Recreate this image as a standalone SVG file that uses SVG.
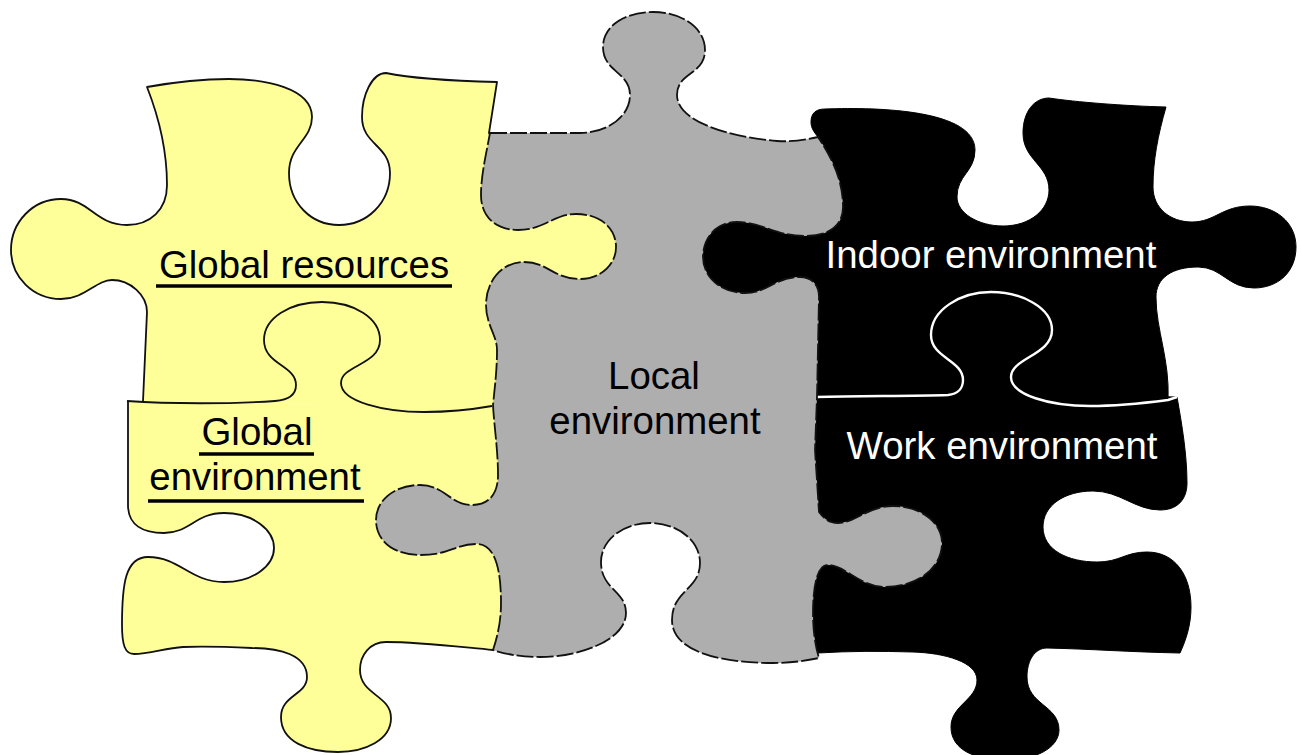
<svg xmlns="http://www.w3.org/2000/svg" width="1301" height="755" viewBox="0 0 1301 755">
<style>
.y{fill:#ffff99;stroke:#111;stroke-width:1.8;stroke-linejoin:round}
.g{fill:#aeaeae;stroke:#111;stroke-width:1.8;stroke-dasharray:17 3;stroke-linejoin:round}
.k{fill:#000;stroke:#000;stroke-width:1}
.seam{fill:none;stroke-linejoin:round}
.t{font-family:"Liberation Sans",Arial,sans-serif;font-size:38.4px;text-anchor:middle}
.u{stroke:#000;stroke-width:3.4}
</style>
<rect width="1301" height="755" fill="#fff"/>
<g id="work-environment">
<path class="k" d="M1177 397C1182 425 1187 455 1187 483C1187 500 1177 510 1160 510C1135 510 1120 491 1093 491C1065 491 1043 505 1043 527C1043 550 1068 562 1097 562C1120 562 1125 552 1147 552C1175 552 1191 575 1191 607C1191 625 1186 640 1180 653C1130 652 1090 649 1047 648C1035 648 1027 660 1027 677C1027 705 1059 705 1059 730C1059 748 1035 760 1007 760C975 760 951 750 951 727C951 705 977 700 977 680C977 662 945 653 913 652C880 651 850 651 818 653L800 640L800 390Z"/>
<text class="t" x="1002" y="459" fill="#fff">Work environment</text>
</g>
<g id="indoor-environment">
<path class="k" d="M817 397L805 300L735 300L697 290L697 215L825 215L830 170L818 137C814 132 811 128 811 122C811 113 816 109 825 109C880 107 975 110 975 150C975 172 957 175 957 197C957 213 978 226 1003 226C1030 226 1049 210 1049 190C1049 165 1023 160 1023 133C1023 112 1034 98 1049 98C1075 102 1125 106 1166 107C1158 135 1153 160 1153 187C1153 208 1170 222 1192 222C1215 222 1222 206 1250 206C1275 206 1296 222 1296 247C1296 272 1278 288 1254 288C1228 288 1222 267 1198 267C1172 267 1156 278 1156 297C1156 330 1170 360 1168 400Z"/>
<text class="t" x="991" y="268" fill="#fff">Indoor environment</text>
</g>
<g id="global-environment">
<path class="y" d="M505 405L510 500L510 640L493 650C460 647 420 642 386 642C370 642 360 655 360 670C360 695 391 695 391 718C391 740 365 752 338 752C308 752 281 742 281 717C281 695 307 695 307 677C307 655 280 648 252 648C230 647 205 646 183 647C165 648 150 654 134 654C125 654 122 645 122 625C122 585 125 557 148 557C180 557 190 582 224 582C253 582 274 566 274 548C274 530 253 513 224 513C195 513 190 533 164 533C143 533 128 525 128 505L128 402"/>
<text class="t" x="257" y="445" fill="#000">Global</text>
<text class="t" x="255" y="490" fill="#000">environment</text>
<line class="u" x1="199" y1="454" x2="314" y2="454"/>
<line class="u" x1="148" y1="501" x2="364" y2="501"/>
</g>
<g id="global-resources">
<path class="y" d="M143 401L147 312C147 295 130 280 112 280C96 280 85 299 61 299C33 299 11 277 11 250C11 222 33 199 61 199C90 199 95 225 127 225C150 225 167 210 167 185C167 150 158 115 147 87C175 82 200 79 229 79C265 79 312 88 312 117C312 140 289 145 289 173C289 203 311 225 339 225C367 225 390 203 390 173C390 145 362 145 362 117C362 95 372 73 386 73C410 78 455 81 497 82L489 133L500 150L530 205L625 205L630 290L530 300L505 353L500 407"/>
<text class="t" x="304" y="278" fill="#000">Global resources</text>
<line class="u" x1="156" y1="286" x2="452" y2="286"/>
</g>
<g id="seams">
<path class="seam" stroke="#111" stroke-width="1.8" d="M127 401C170 404 230 404 275 401C288 400 296 395 296 385C296 365 264 365 264 340C264 318 290 302 322 302C354 302 380 318 380 340C380 365 341 365 341 383C341 402 385 412 424 412C450 412 475 409 492 406"/>
<path class="seam" stroke="#fff" stroke-width="2.4" d="M817 397C860 396 910 396 948 395C958 394 963 388 963 380C963 360 931 358 931 335C931 310 960 292 991 292C1022 292 1052 308 1052 330C1052 355 1011 358 1011 377C1011 395 1050 406 1090 406C1120 406 1145 403 1168 400L1177 397"/>
</g>
<g id="local-environment">
<path class="g" d="M490 133L580 133C605 133 630 118 630 95C630 72 603 72 603 47C603 26 625 12 653 12C682 12 705 28 705 50C705 75 677 72 677 95C677 122 730 137 777 141C792 142 805 140 818 137C832 158 843 180 843 207C843 225 830 236 805 236C775 236 762 222 737 222C717 222 703 237 703 257C703 278 722 293 745 293C768 293 775 277 800 277C812 277 819 285 819 297L817 397L815 450L819 512C825 520 830 523 838 523C855 523 868 506 893 506C920 506 942 522 942 543C942 570 915 587 885 587C860 587 845 565 828 565C816 565 813 590 813 613C813 630 815 645 819 658C805 661 790 663 773 663C730 663 672 655 672 620C672 590 700 590 700 563C700 540 677 523 650 523C623 523 601 540 601 562C601 590 626 590 626 613C626 640 580 657 540 657C520 657 505 654 493 650C498 635 501 620 501 603C501 575 497 544 477 544C455 544 450 555 420 555C395 555 376 542 376 520C376 500 395 485 420 485C445 485 450 505 472 505C488 505 498 495 498 475C498 450 494 425 493 405C495 385 497 370 497 350C497 335 486 325 486 305C486 280 503 262 524 262C548 262 553 279 580 279C600 279 616 265 616 247C616 228 600 214 576 214C553 214 545 230 518 230C497 230 481 218 481 195C481 175 486 155 490 133Z"/>
<text class="t" x="654" y="389" fill="#000">Local</text>
<text class="t" x="655" y="434" fill="#000">environment</text>
</g>
</svg>
